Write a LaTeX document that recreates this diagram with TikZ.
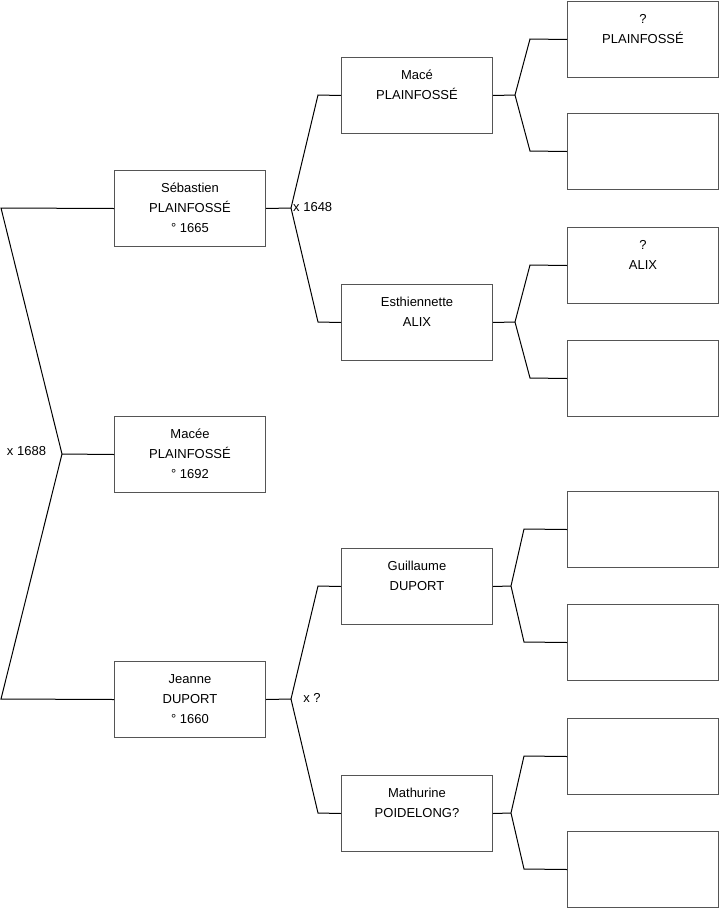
\documentclass[tikz,border=0pt]{standalone}
\usepackage{fontspec}
\setmainfont{Liberation Sans}
\definecolor{boxgray}{RGB}{85,85,85}
\tikzset{
  person/.style={draw=boxgray, line width=1pt, rectangle, anchor=north west,
    minimum width=151pt, minimum height=76pt, inner sep=0pt, align=center,
    font=\fontsize{13}{20}\selectfont},
  conn/.style={draw=black, line width=1pt},
  marr/.style={font=\fontsize{13}{16}\selectfont, inner sep=0pt}
}
\newcommand{\tl}[3]{\strut #1\\\strut #2\\\strut #3}
\begin{document}
\begin{tikzpicture}[x=1pt,y=-1pt]
\useasboundingbox (0,0) rectangle (719,908);
% generation 1
\node[person] (s) at (114,170) {\tl{Sébastien}{PLAINFOSSÉ}{° 1665}};
\node[person] (m) at (114,416) {\tl{Macée}{PLAINFOSSÉ}{° 1692}};
\node[person] (j) at (114,661) {\tl{Jeanne}{DUPORT}{° 1660}};
% generation 2
\node[person] (mace) at (341,57) {\tl{Macé}{PLAINFOSSÉ}{}};
\node[person] (esth) at (341,284) {\tl{Esthiennette}{ALIX}{}};
\node[person] (guil) at (341,548) {\tl{Guillaume}{DUPORT}{}};
\node[person] (math) at (341,775) {\tl{Mathurine}{POIDELONG?}{}};
% generation 3
\node[person] (g1) at (567,1) {\tl{?}{PLAINFOSSÉ}{}};
\node[person] (g2) at (567,113) {\tl{}{}{}};
\node[person] (g3) at (567,227) {\tl{?}{ALIX}{}};
\node[person] (g4) at (567,340) {\tl{}{}{}};
\node[person] (g5) at (567,491) {\tl{}{}{}};
\node[person] (g6) at (567,604) {\tl{}{}{}};
\node[person] (g7) at (567,718) {\tl{}{}{}};
\node[person] (g8) at (567,831) {\tl{}{}{}};
% left bracket
\coordinate (a1) at (1,208);
\coordinate (v1) at (62,454);
\coordinate (b1) at (1,699);
\draw[conn] (s.west) -- (a1) -- (v1) -- (b1) -- (j.west);
\draw[conn] (v1) -- (m.west);
% Sebastien parents
\coordinate (v2) at (291,208);
\coordinate (t2) at (318,95);
\coordinate (b2) at (318,322);
\draw[conn] (s.east) -- (v2);
\draw[conn] (mace.west) -- (t2) -- (v2) -- (b2) -- (esth.west);
% Jeanne parents
\coordinate (v3) at (291,699);
\coordinate (t3) at (318,586);
\coordinate (b3) at (318,813);
\draw[conn] (j.east) -- (v3);
\draw[conn] (guil.west) -- (t3) -- (v3) -- (b3) -- (math.west);
% Mace parents
\coordinate (v4) at (515,95);
\coordinate (t4) at (530,39);
\coordinate (b4) at (530,151);
\draw[conn] (mace.east) -- (v4);
\draw[conn] (g1.west) -- (t4) -- (v4) -- (b4) -- (g2.west);
% Esthiennette parents
\coordinate (v5) at (515,322);
\coordinate (t5) at (530,265);
\coordinate (b5) at (530,378);
\draw[conn] (esth.east) -- (v5);
\draw[conn] (g3.west) -- (t5) -- (v5) -- (b5) -- (g4.west);
% Guillaume parents
\coordinate (v6) at (511,586);
\coordinate (t6) at (524,529);
\coordinate (b6) at (524,642);
\draw[conn] (guil.east) -- (v6);
\draw[conn] (g5.west) -- (t6) -- (v6) -- (b6) -- (g6.west);
% Mathurine parents
\coordinate (v7) at (511,813);
\coordinate (t7) at (524,756);
\coordinate (b7) at (524,869);
\draw[conn] (math.east) -- (v7);
\draw[conn] (g7.west) -- (t7) -- (v7) -- (b7) -- (g8.west);
% marriage labels
\node[marr, anchor=west] (x1) at (293,207) {x 1648};
\node[marr] (x2) at (26.5,451) {x 1688};
\node[marr] (x3) at (312,698) {x ?};
\end{tikzpicture}
\end{document}
